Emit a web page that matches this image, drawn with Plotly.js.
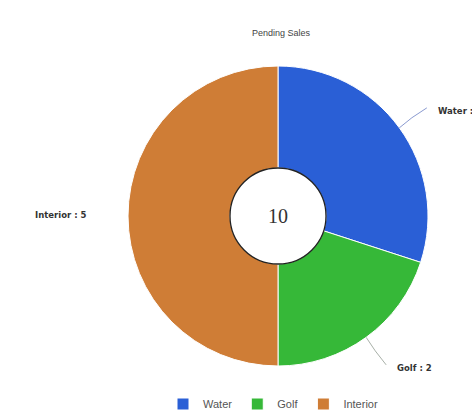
<!DOCTYPE html>
<html>
<head>
<meta charset="utf-8">
<script src="https://cdn.plot.ly/plotly-3.0.1.min.js"></script>
<style>html,body{margin:0;padding:0;background:#fff;}#chart{width:472px;height:419px;}</style>
</head>
<body>
<div id="chart"></div>
<script>
const categories = ["Water", "Golf", "Interior"];
const values = [3, 2, 5];
const colors = ["#2a5fd6", "#36b838", "#cf7d36"];
const chartTitle = "Pending Sales";

const W = 472, H = 419;
const cx = 278, cy = 216, R = 150;
const px = x => x / W, py = y => 1 - y / H;
const total = values.reduce((a, b) => a + b, 0);

const trace = {
  type: "pie",
  labels: categories,
  values: values,
  sort: false,
  direction: "clockwise",
  rotation: 0,
  hole: 0.32,
  textinfo: "none",
  hoverinfo: "label+value",
  marker: { colors: colors, line: { color: "#ffffff", width: 1 } },
  domain: { x: [px(cx - R), px(cx + R)], y: [py(cy + R), py(cy - R)] }
};

// leader lines and labels derived from slice mid-angles
const shapes = [];
const annotations = [];
let acc = 0;
const RL = R + 34;
values.forEach((v, i) => {
  const mid = (acc + v / 2) / total * 2 * Math.PI;
  acc += v;
  const sx = Math.sin(mid), sy = -Math.cos(mid);
  const ex = cx + R * sx, ey = cy + R * sy;
  const kx = cx + RL * sx, ky = cy + RL * sy;
  const left = sx < -0.01;
  let tx, ty;
  if (left) {
    tx = kx - 6; ty = ky - 1;
  } else {
    const mx = cx + (R + 14) * sx, my = cy + (R + 14) * sy;
    shapes.push({ type: "path", xref: "paper", yref: "paper",
      path: `M ${px(ex)},${py(ey)} Q ${px(mx)},${py(my + 2 * Math.sign(sy))} ${px(kx)},${py(ky)}`,
      line: { color: i === 0 ? "#8a9ad0" : "#a8b0a8", width: 1 } });
    tx = kx + 9; ty = ky + 3;
  }
  annotations.push({
    xref: "paper", yref: "paper", x: px(tx), y: py(ty),
    xanchor: left ? "right" : "left", yanchor: "middle",
    text: "<b>" + categories[i] + " : " + v + "</b>", showarrow: false,
    font: { family: "DejaVu Sans, sans-serif", size: 8.5, color: "#333" }
  });
});

// hole circle border
const hr = R * trace.hole;
shapes.push({ type: "circle", xref: "paper", yref: "paper",
  x0: px(cx - hr), x1: px(cx + hr), y0: py(cy + hr), y1: py(cy - hr),
  line: { color: "#222", width: 1.3 }, fillcolor: "rgba(0,0,0,0)" });

annotations.push({ xref: "paper", yref: "paper", x: px(cx), y: py(cy), showarrow: false,
  text: String(total), font: { family: "Liberation Serif, Times New Roman, serif", size: 20, color: "#333" } });

const layout = {
  width: W, height: H,
  margin: { l: 0, r: 0, t: 0, b: 0 },
  paper_bgcolor: "#fff",
  title: { text: chartTitle, x: px(281), xanchor: "center", y: py(33), yanchor: "middle",
    font: { family: "Liberation Sans, Arial, sans-serif", size: 9, color: "#444" } },
  showlegend: true,
  legend: { orientation: "h", x: px(273), xanchor: "center", y: py(404), yanchor: "middle",
    font: { family: "Liberation Sans, Arial, sans-serif", size: 11, color: "#555" },
    itemwidth: 30, traceorder: "normal" },
  shapes: shapes,
  annotations: annotations
};

Plotly.newPlot("chart", [trace], layout, { displayModeBar: false, staticPlot: true });
</script>
</body>
</html>
